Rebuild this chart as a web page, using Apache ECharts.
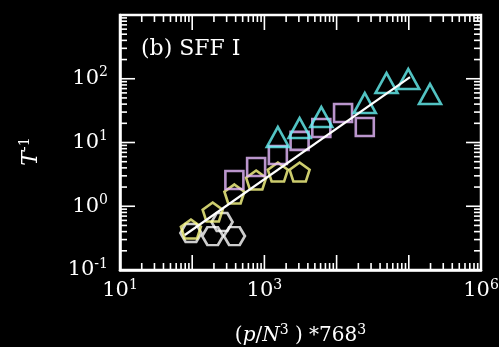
<!DOCTYPE html>
<html>
<head>
<meta charset="utf-8">
<script src="https://cdn.jsdelivr.net/npm/echarts@6/dist/echarts.min.js"></script>
<style>
  html, body { margin: 0; padding: 0; background: #000; }
  #chart { width: 499px; height: 347px; }
</style>
</head>
<body>
<div id="chart"></div>
<script>
// Inverse time scale T^-1 against rescaled p, one list per marker family
const hexX  = [96, 192, 384, 259];
const hexY  = [0.38, 0.34, 0.34, 0.565];
const pentX = [96, 192, 384, 768, 1536, 3072];
const pentY = [0.44, 0.81, 1.56, 2.58, 3.44, 3.44];
const sqX   = [384, 768, 1536, 3072, 6144, 12288, 24576];
const sqY   = [2.58, 4.13, 6.37, 10.6, 16.9, 29, 17.5];
const triX  = [1536, 3072, 6144, 24576, 49152, 98304, 196608];
const triY  = [12.2, 16.9, 25.1, 41.7, 85.7, 99, 57.7];
// power-law fit drawn through the data
const fitX = [79, 104000];
const fitY = [0.354, 106];
// decades that carry a printed label
const xLabelExps = [1, 3, 6];
const yLabelExps = [-1, 0, 1, 2];
const xRange = [10, 1e6];
const yRange = [0.1, 1000];

const SERIF = 'DejaVu Serif';
const pairs = (xs, ys) => xs.map((x, i) => [x, ys[i]]);

// log-decade tick positions (1..9 x 10^k) for the inward tick marks on all four sides
function decadeTicks(lo, hi, axisId, otherVal) {
  const out = [];
  for (let e = Math.round(Math.log10(lo)); e < Math.round(Math.log10(hi)); e++) {
    for (let m = 1; m <= 9; m++) {
      const v = m * Math.pow(10, e);
      out.push(axisId === 0 ? [v, otherVal, 0, m === 1 ? 1 : 0] : [otherVal, v, 1, m === 1 ? 1 : 0]);
    }
  }
  out.push(axisId === 0 ? [hi, otherVal, 0, 1] : [otherVal, hi, 1, 1]);
  return out;
}
const tickData = decadeTicks(xRange[0], xRange[1], 0, 1).concat(decadeTicks(yRange[0], yRange[1], 1, 100));

function renderTick(params, api) {
  const cs = params.coordSys;
  const which = api.value(2);
  const len = api.value(3) ? 15 : 7;
  const mk = (x1, y1, x2, y2) => ({ type: 'line', shape: { x1, y1, x2, y2 }, style: { stroke: '#fff', lineWidth: 1.6 } });
  if (which === 0) {
    const px = api.coord([api.value(0), 1])[0];
    const b = cs.y + cs.height, t = cs.y;
    return { type: 'group', children: [mk(px, b, px, b - len), mk(px, t, px, t + len)] };
  }
  const py = api.coord([100, api.value(1)])[1];
  const l = cs.x, r = cs.x + cs.width;
  return { type: 'group', children: [mk(l, py, l + len, py), mk(r, py, r - len, py)] };
}

const txt = (extra) => Object.assign({ fontSize: 21, fontFamily: SERIF, color: '#fff', lineHeight: 26 }, extra || {});
const sup = { fontSize: 14, fontFamily: SERIF, color: '#fff', verticalAlign: 'top', lineHeight: 26, padding: [0, 0, 10, 0] };
const powRich = { b: txt(), s: sup };
const powLabel = (shown) => (v) => {
  const e = Math.round(Math.log10(v));
  return shown.includes(e) ? '{b|10}{s|' + e + '}' : '';
};

const hexPath  = 'path://M-1,0L-0.5,-0.866L0.5,-0.866L1,0L0.5,0.866L-0.5,0.866Z';
const pentPath = 'path://M0,-1L0.951,-0.309L0.588,0.809L-0.588,0.809L-0.951,-0.309Z';

const hollow = (c) => ({ color: 'rgba(0,0,0,0)', borderColor: c, borderWidth: 2.6 });

const chart = echarts.init(document.getElementById('chart'), null, { renderer: 'canvas' });
chart.setOption({
  backgroundColor: '#000',
  animation: false,
  grid: {
    left: 120, right: 18, top: 15, bottom: 77,
    containLabel: false, outerBoundsMode: 'none',
    show: true, borderColor: '#fff', borderWidth: 2.5, backgroundColor: 'transparent'
  },
  xAxis: {
    type: 'log', logBase: 10, min: xRange[0], max: xRange[1],
    axisLine: { lineStyle: { color: '#fff', width: 2.5 } },
    axisTick: { show: false }, splitLine: { show: false },
    axisLabel: { formatter: powLabel(xLabelExps), margin: 8, rich: powRich },
    name: '{i|(}{it|p}{i|/}{it|N}{s|3}{i| ) *768}{s|3}',
    nameLocation: 'middle', nameGap: 53,
    nameTextStyle: { rich: { i: txt({ fontSize: 20 }), it: txt({ fontSize: 20, fontStyle: 'italic' }), s: sup } }
  },
  yAxis: {
    type: 'log', logBase: 10, min: yRange[0], max: yRange[1],
    axisLine: { lineStyle: { color: '#fff', width: 2.5 } },
    axisTick: { show: false }, splitLine: { show: false },
    axisLabel: { formatter: powLabel(yLabelExps), margin: 12, rich: powRich },
    name: '{it|T}{s|-1}',
    nameLocation: 'middle', nameGap: 76,
    nameTextStyle: { padding: [0, 18, 0, 0], rich: { it: txt({ fontSize: 22, fontStyle: 'italic' }), s: sup } }
  },
  graphic: [{
    type: 'text', left: 141, top: 38,
    style: { text: '(b) SFF I', fill: '#fff', font: '22px "DejaVu Serif"' }
  }],
  series: [
    { type: 'custom', renderItem: renderTick, data: tickData, encode: { x: 0, y: 1 }, silent: true, z: 1 },
    { type: 'scatter', data: pairs(hexX, hexY), symbol: hexPath, symbolSize: [21, 18], itemStyle: hollow('#ffffff'), z: 2 },
    { type: 'scatter', data: pairs(pentX, pentY), symbol: pentPath, symbolSize: [20, 19], itemStyle: hollow('#ffff88'), z: 3 },
    { type: 'scatter', data: pairs(sqX, sqY), symbol: 'rect', symbolSize: 18, itemStyle: hollow('#e8baff'), z: 4 },
    { type: 'scatter', data: pairs(triX, triY), symbol: 'triangle', symbolSize: [22, 20], itemStyle: hollow('#66f4f4'), z: 5 },
    { type: 'line', data: pairs(fitX, fitY), symbol: 'none', lineStyle: { color: '#fff', width: 2.2 }, z: 6 }
  ]
});
</script>
</body>
</html>
